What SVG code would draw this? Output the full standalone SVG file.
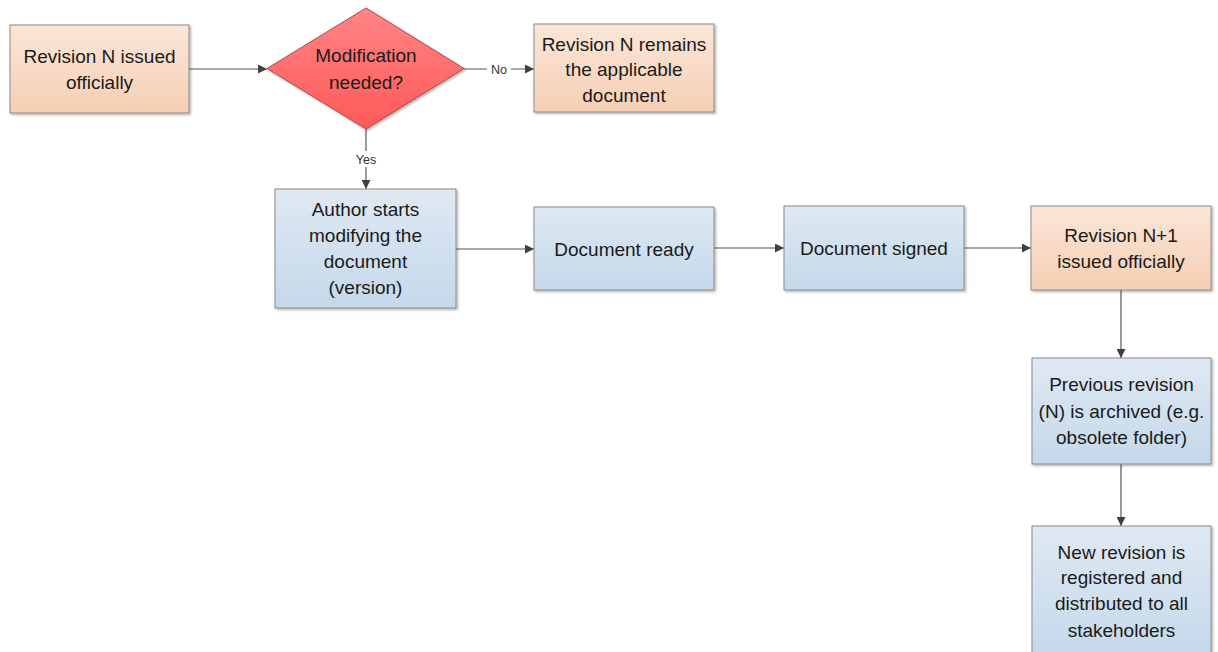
<svg xmlns="http://www.w3.org/2000/svg" width="1218" height="652" viewBox="0 0 1218 652">
<defs>
<linearGradient id="gOr" x1="0" y1="0" x2="0" y2="1"><stop offset="0" stop-color="#fbe6d8"/><stop offset="1" stop-color="#f5cfb4"/></linearGradient>
<linearGradient id="gBl" x1="0" y1="0" x2="0" y2="1"><stop offset="0" stop-color="#dfe9f3"/><stop offset="1" stop-color="#c4d8ea"/></linearGradient>
<linearGradient id="gRd" x1="0" y1="0" x2="0" y2="1"><stop offset="0" stop-color="#ff8585"/><stop offset="1" stop-color="#ff5858"/></linearGradient>
<filter id="sh" x="-10%" y="-10%" width="130%" height="130%"><feDropShadow dx="1.5" dy="1.5" stdDeviation="1.2" flood-color="#000" flood-opacity="0.3"/></filter>
<marker id="ar" viewBox="0 0 10 10" refX="10" refY="5" markerWidth="9" markerHeight="9" markerUnits="userSpaceOnUse" orient="auto"><path d="M0,0 L10,5 L0,10 z" fill="#404040"/></marker>
</defs>
<style>
.or{fill:url(#gOr);stroke:#8a8a8a;stroke-width:1;filter:url(#sh)}
.bl{fill:url(#gBl);stroke:#8a8a8a;stroke-width:1;filter:url(#sh)}
.rd{fill:url(#gRd);stroke:#b04848;stroke-width:1;filter:url(#sh)}
text{font-family:"Liberation Sans",Arial,sans-serif;font-size:19px;fill:#1a1a1a;text-anchor:middle}
.lb{font-size:12.5px;fill:#333}
.c{fill:none;stroke:#555;stroke-width:1.2;marker-end:url(#ar)}
</style>
<rect width="1218" height="652" fill="#fff"/>
<g id="connectors">
<path class="c" d="M189,69 L267,69"/>
<path class="c" d="M464,69 L534,69"/>
<path class="c" d="M366,129 L366,189"/>
<path class="c" d="M456,249 L534,249"/>
<path class="c" d="M714,248 L784,248"/>
<path class="c" d="M964,248 L1031,248"/>
<path class="c" d="M1121,290 L1121,358"/>
<path class="c" d="M1121,464 L1121,526"/>
<rect x="487" y="61" width="24" height="16" fill="#fff"/>
<text class="lb" x="499" y="73.5">No</text>
<rect x="351" y="151" width="30" height="16" fill="#fff"/>
<text class="lb" x="366" y="163.5">Yes</text>
</g>
<g id="n1"><rect class="or" x="10" y="25" width="179" height="88"/><text x="99.5" y="62.5">Revision N issued</text><text x="99.5" y="88.5">officially</text></g>
<g id="n2"><path class="rd" d="M366,8 L464,68.5 L366,129 L267,68.5 z"/><text x="366" y="61.5">Modification</text><text x="366" y="88.5">needed?</text></g>
<g id="n3"><rect class="or" x="534" y="24" width="180" height="88"/><text x="624" y="50.5">Revision N remains</text><text x="624" y="76">the applicable</text><text x="624" y="101.5">document</text></g>
<g id="n4"><rect class="bl" x="275" y="189" width="181" height="119"/><text x="365.5" y="215.5">Author starts</text><text x="365.5" y="241.5">modifying the</text><text x="365.5" y="267.5">document</text><text x="365.5" y="293.5">(version)</text></g>
<g id="n5"><rect class="bl" x="534" y="207" width="180" height="83"/><text x="624" y="255.5">Document ready</text></g>
<g id="n6"><rect class="bl" x="784" y="206" width="180" height="84"/><text x="874" y="254.5">Document signed</text></g>
<g id="n7"><rect class="or" x="1031" y="206" width="180" height="84"/><text x="1121" y="241.5">Revision N+1</text><text x="1121" y="267.5">issued officially</text></g>
<g id="n8"><rect class="bl" x="1032" y="358" width="179" height="106"/><text x="1121.5" y="390.5">Previous revision</text><text x="1121.5" y="417.5">(N) is archived (e.g.</text><text x="1121.5" y="443.5">obsolete folder)</text></g>
<g id="n9"><rect class="bl" x="1032" y="526" width="179" height="132"/><text x="1121.5" y="558.5">New revision is</text><text x="1121.5" y="583.5">registered and</text><text x="1121.5" y="609.5">distributed to all</text><text x="1121.5" y="636.5">stakeholders</text></g>
</svg>
